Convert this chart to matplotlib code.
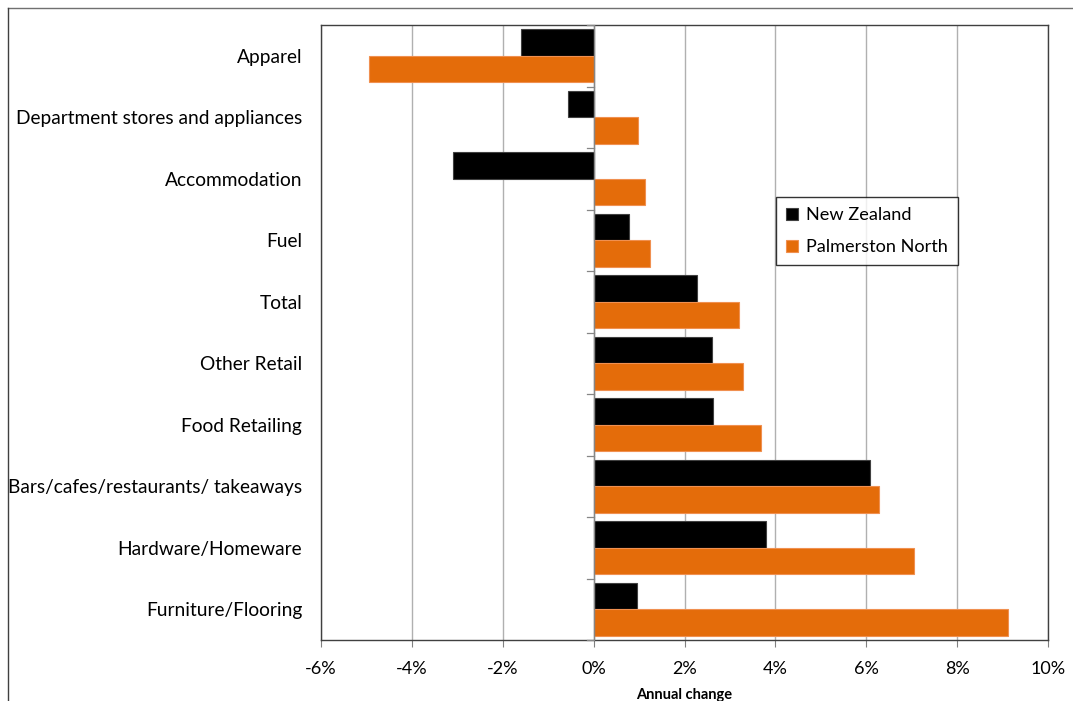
import matplotlib
matplotlib.use("Agg")
import matplotlib.pyplot as plt
from matplotlib.lines import Line2D
from matplotlib.ticker import FuncFormatter

# Annual change in retail spending by category (%)
categories = [
    "Apparel",
    "Department stores and appliances",
    "Accommodation",
    "Fuel",
    "Total",
    "Other Retail",
    "Food Retailing",
    "Bars/cafes/restaurants/ takeaways",
    "Hardware/Homeware",
    "Furniture/Flooring",
]
new_zealand = [-1.6, -0.57, -3.1, 0.77, 2.27, 2.6, 2.62, 6.08, 3.79, 0.95]
palmerston_north = [-4.95, 0.97, 1.12, 1.25, 3.19, 3.28, 3.68, 6.28, 7.05, 9.12]
x_ticks = [-6, -4, -2, 0, 2, 4, 6, 8, 10]

NZ_COLOR = "#000000"
PN_COLOR = "#E46C0A"

plt.rcParams["font.family"] = ["Lato", "DejaVu Sans"]

fig = plt.figure(figsize=(10.73, 7.01), dpi=100)
ax = fig.add_axes([321 / 1073, 1 - 640 / 701, 727 / 1073, 615 / 701])

pos = list(range(len(categories)))
h = 0.43
ax.barh([p - 0.215 for p in pos], new_zealand, height=h, color=NZ_COLOR,
        edgecolor="#404040", linewidth=0.8, label="New Zealand", zorder=3)
ax.barh([p + 0.215 for p in pos], palmerston_north, height=h, color=PN_COLOR,
        edgecolor="#F09050", linewidth=0.8, label="Palmerston North", zorder=3)

ax.set_xlim(x_ticks[0], x_ticks[-1])
ax.set_ylim(len(categories) - 0.5, -0.5)

ax.set_xticks(x_ticks)
ax.xaxis.set_major_formatter(FuncFormatter(lambda v, _: f"{v:.0f}%"))
ax.tick_params(axis="x", length=5, width=0.8, color="#808080", pad=10,
               labelsize=13)
ax.set_yticks(pos)
ax.set_yticklabels(categories)
ax.tick_params(axis="y", length=0, pad=13.5, labelsize=13.8)

ax.grid(axis="x", color="#B0B0B0", linewidth=1.0, zorder=0)
ax.set_axisbelow(True)

# vertical axis at zero with category separator ticks
ax.axvline(0, color="#868686", linewidth=1.0, zorder=4)
for b in range(len(categories) + 1):
    ax.plot([-0.14, 0], [b - 0.5, b - 0.5], color="#868686", linewidth=0.9,
            zorder=4, clip_on=False)

for s in ax.spines.values():
    s.set_color("#404040")
    s.set_linewidth(1.0)

ax.set_xlabel("Annual change", fontsize=10.5, fontweight="bold", labelpad=8)

leg = ax.legend(loc="upper left", bbox_to_anchor=((776 - 321) / 727, (640 - 197) / 615),
                frameon=True, fancybox=False, edgecolor="#000000", fontsize=13.1,
                handlelength=0.65, handleheight=0.65, handletextpad=0.45,
                borderpad=0.55, labelspacing=0.9, borderaxespad=0)
leg.get_frame().set_linewidth(1.0)

# outer frame
fig.add_artist(Line2D([8 / 1073, 1.0], [1 - 8 / 701, 1 - 8 / 701],
                      color="#707070", linewidth=1.0, transform=fig.transFigure))
fig.add_artist(Line2D([8 / 1073, 8 / 1073], [0, 1 - 8 / 701],
                      color="#404040", linewidth=1.0, transform=fig.transFigure))

fig.savefig("out.png", dpi=100)
